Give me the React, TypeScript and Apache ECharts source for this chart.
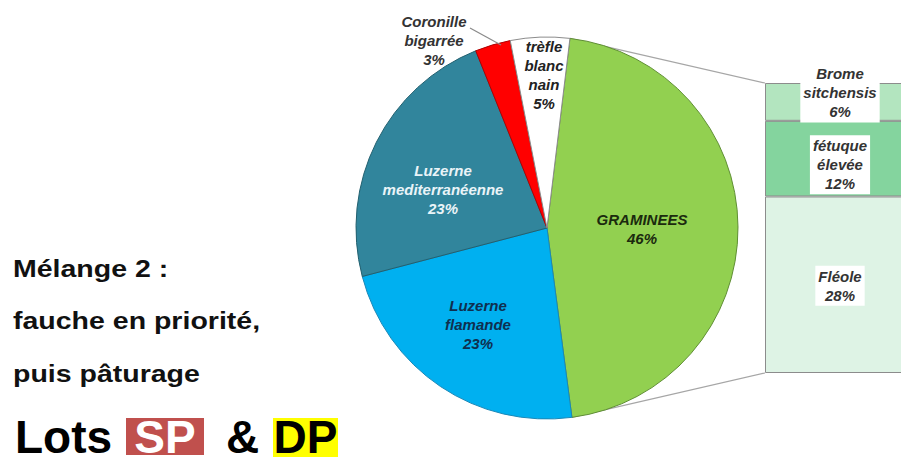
import React, { useEffect, useRef } from 'react';
import * as echarts from 'echarts';

// ---- data ----
const pieNames = ['GRAMINEES', 'Luzerne flamande', 'Luzerne mediterranéenne', 'Coronille bigarrée', 'trèfle blanc nain'];
const pieValues = [46, 23, 23, 3, 5];
const barNames = ['Brome sitchensis', 'fétuque élevée', 'Fléole']; // top to bottom
const barValues = [6, 12, 28];
const titleLines = ['Mélange 2 :', 'fauche en priorité,', 'puis pâturage'];
const lotsWord = 'Lots';
const lotsTags = ['SP', 'DP'];

// ---- styles / layout ----
const FONT = '"Liberation Sans", Arial, sans-serif';
const PIE_CX = 547, PIE_CY = 228, PIE_R = 191, START = 83.1;
const BAR_LEFT = 765, BAR_TOP = 83, BAR_W = 150, BAR_H = 290;
const pieColors = ['#92D050', '#00B0F0', '#31859C', '#FF0000', '#FFFFFF'];
const pieBorders = ['#5f8f33', '#1a88b8', '#22606f', '#b00000', '#8c8c8c'];
const pieLabelColors = ['#1b2a0e', '#0f2f4f', '#eaf4f8', '#333333', '#222222'];
const pieLabelPos = [[642, 229], [478, 324], [443, 189], [434, 40], [544, 75]];
const barColors = ['#B3E5BF', '#84D49E', '#DEF3E5'];
const barLabelDy = [-9, 6, 1];

export default function App() {
  const ref = useRef<HTMLDivElement>(null);
  useEffect(() => {
    const chart = echarts.init(ref.current!, null, { renderer: 'svg' });
    const total = pieValues.reduce((a, b) => a + b, 0);
    const a0 = (START * Math.PI) / 180;
    const a1 = ((START - (360 * pieValues[0]) / total) * Math.PI) / 180;
    const p0 = [PIE_CX + PIE_R * Math.cos(a0), PIE_CY - PIE_R * Math.sin(a0)];
    const p1 = [PIE_CX + PIE_R * Math.cos(a1), PIE_CY - PIE_R * Math.sin(a1)];

    const labelBase = {
      fontFamily: FONT,
      fontStyle: 'italic' as const,
      fontWeight: 'bold' as const,
      fontSize: 15,
      lineHeight: 19,
    };

    const stackOrder = [...barNames.keys()].reverse(); // bottom first
    const barSeries = stackOrder.map((i) => ({
      type: 'bar',
      name: barNames[i],
      stack: 'g',
      xAxisIndex: 0,
      yAxisIndex: 0,
      barWidth: '100%',
      data: [barValues[i]],
      itemStyle: { color: barColors[i], borderColor: '#8c8c8c', borderWidth: 1 },
      label: {
        show: true,
        position: 'inside',
        ...labelBase,
        color: '#333333',
        backgroundColor: '#ffffff',
        padding: [1, 3],
        formatter: () => `${barNames[i].replace(/ /g, '\n')}\n${barValues[i]}%`,
      },
      labelLayout: { dy: barLabelDy[i] },
      z: 2,
    }));

    const big = `bold 46px ${FONT}`;
    const option: any = {
      animation: false,
      backgroundColor: '#ffffff',
      grid: { left: BAR_LEFT, top: BAR_TOP, width: BAR_W, height: BAR_H, outerBoundsMode: 'none', containLabel: false },
      xAxis: { type: 'category', data: [''], show: false },
      yAxis: { type: 'value', min: 0, max: pieValues[0], show: false },
      series: [
        {
          type: 'pie',
          center: [PIE_CX, PIE_CY],
          radius: PIE_R,
          startAngle: START,
          clockwise: true,
          avoidLabelOverlap: false,
          z: 3,
          data: pieNames.map((n, i) => ({
            name: n,
            value: pieValues[i],
            itemStyle: { color: pieColors[i], borderColor: pieBorders[i], borderWidth: 1 },
            label: {
              show: true,
              position: 'inside',
              ...labelBase,
              color: pieLabelColors[i],
              formatter: () => `${n.replace(/ /g, '\n')}\n${pieValues[i]}%`,
            },
            labelLine: { show: false },
          })),
          labelLayout: (params: any) => {
            const p = pieLabelPos[params.dataIndex];
            return { x: p[0], y: p[1], align: 'center', verticalAlign: 'middle' };
          },
        },
        ...barSeries,
      ],
      graphic: [
        { type: 'line', z: 1, shape: { x1: p0[0], y1: p0[1], x2: BAR_LEFT, y2: BAR_TOP }, style: { stroke: '#a6a6a6', lineWidth: 1.2 } },
        { type: 'line', z: 1, shape: { x1: p1[0], y1: p1[1], x2: BAR_LEFT, y2: BAR_TOP + BAR_H }, style: { stroke: '#a6a6a6', lineWidth: 1.2 } },
        { type: 'line', z: 10, shape: { x1: 470, y1: 28, x2: 501, y2: 45 }, style: { stroke: '#8a8a8a', lineWidth: 1.2 } },
        ...titleLines.map((t, i) => ({
          type: 'text',
          x: 13,
          y: 269 + i * 52.5,
          scaleX: 1.24,
          style: { text: t, font: `bold 23px ${FONT}`, fill: '#111111', verticalAlign: 'middle', align: 'left' },
        })),
        { type: 'text', x: 15, y: 437, style: { text: lotsWord, font: big, fill: '#000000', verticalAlign: 'middle' } },
        { type: 'rect', shape: { x: 126, y: 418, width: 78, height: 37 }, style: { fill: '#C0504D' } },
        { type: 'text', x: 165, y: 437, style: { text: lotsTags[0], font: big, fill: '#ffffff', align: 'center', verticalAlign: 'middle' } },
        { type: 'text', x: 226, y: 437, style: { text: '&', font: big, fill: '#000000', verticalAlign: 'middle' } },
        { type: 'rect', shape: { x: 273, y: 418, width: 65, height: 39 }, style: { fill: '#FFFF00' } },
        { type: 'text', x: 305.5, y: 437, style: { text: lotsTags[1], font: big, fill: '#000000', align: 'center', verticalAlign: 'middle' } },
      ],
    };
    chart.setOption(option);
    return () => chart.dispose();
  }, []);
  return (
    <div
      ref={ref}
      style={{ position: 'fixed', left: 0, top: 0, width: 901, height: 468, background: '#fff' }}
    />
  );
}
